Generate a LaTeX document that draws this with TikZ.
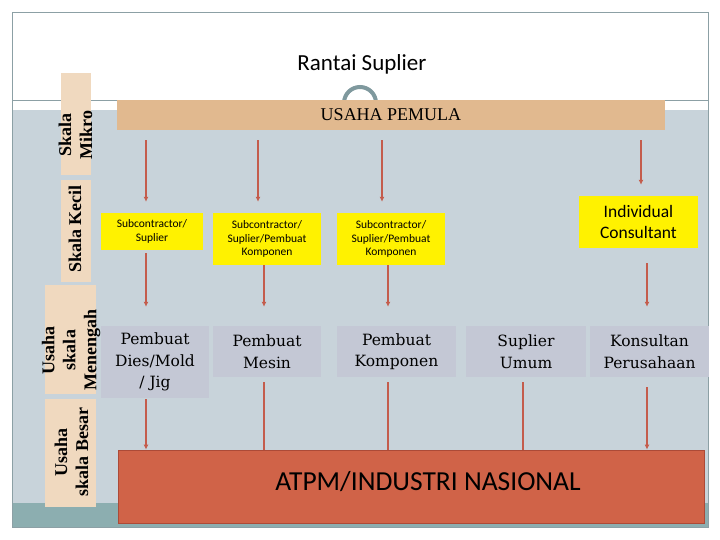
\documentclass[tikz,border=0pt]{standalone}
\usepackage{fontspec}
\newfontfamily\slidesans{Carlito}
\newfontfamily\slideserif{Liberation Serif}
\newfontfamily\boxserif{DejaVu Serif}
\usetikzlibrary{positioning}
\usetikzlibrary{calc}
\usetikzlibrary{arrows.meta}
\definecolor{slidegrey}{RGB}{200,211,218}
\definecolor{slideteal}{RGB}{140,174,176}
\definecolor{framegrey}{RGB}{140,160,165}
\definecolor{handlegrey}{RGB}{127,153,158}
\definecolor{tanbar}{RGB}{225,185,143}
\definecolor{peach}{RGB}{240,217,191}
\definecolor{boxgrey}{RGB}{196,200,213}
\definecolor{chainred}{RGB}{196,92,76}
\definecolor{atpmred}{RGB}{208,99,72}
\definecolor{atpmedge}{RGB}{172,74,55}

\begin{document}
\begin{tikzpicture}[
    x=1pt, y=-1pt,
    >={Latex[length=5pt,width=5pt]},
    % node styles
    bar/.style = {
      fill=tanbar,
      inner sep=0pt,
      font=\slideserif\fontsize{18}{21}\selectfont
    },
    side/.style = {fill=peach, inner sep=0pt},
    sidetxt/.style = {
      rotate=90,
      align=center,
      inner sep=0pt,
      font=\slideserif\bfseries\fontsize{18}{21}\selectfont
    },
    yel/.style = {
      fill=yellow,
      inner sep=0pt,
      align=center,
      font=\slidesans\fontsize{11.5}{13.5}\selectfont
    },
    gbox/.style = {
      fill=boxgrey,
      inner sep=0pt,
      align=center,
      font=\boxserif\fontsize{15.5}{21.5}\selectfont
    },
    % arrow styles
    arr/.style = {->, line width=1.6pt, draw=chainred},
    ln/.style = {line width=1.6pt, draw=chainred}
  ]
  \useasboundingbox (0,0) rectangle (720,540);

  % --- Slide
  \fill[white] (0,0) rectangle (720,540);
  \fill[slidegrey] (12,110) rectangle (708,503);
  \fill[slideteal] (12,503) rectangle (708,527);
  \draw[framegrey, line width=0.8pt] (12,12) rectangle (708,527);
  \draw[framegrey, line width=0.8pt] (12,100) -- (708,100);
  \draw[handlegrey, line width=4pt] (360,103) circle (16);

  \node[font=\slidesans\fontsize{23}{27}\selectfont] (title) at (362,64) {Rantai Suplier};

  % --- Nodes
  \node[bar, minimum width=548pt, minimum height=30pt] (pemula) at (391,115) {USAHA PEMULA};

  \node[side, minimum width=30pt, minimum height=102pt] (mikro) at (76,124) {};
  \node[side, minimum width=30pt, minimum height=102pt] (kecil) at (76,231) {};
  \node[side, minimum width=51pt, minimum height=109pt] (menengah) at (70.5,339.5) {};
  \node[side, minimum width=51pt, minimum height=108pt] (besar) at (70.5,453) {};
  \node[sidetxt] (mikrotxt) at (75.5,135) {Skala\\Mikro};
  \node[sidetxt] (keciltxt) at (75,229) {Skala Kecil};
  \node[sidetxt] (menengahtxt) at (71,350) {Usaha\\skala\\Menengah};
  \node[sidetxt] (besartxt) at (71.5,452) {Usaha\\skala Besar};

  \node[yel, minimum width=102pt, minimum height=37pt] (sub1) at (152,231.5) {Subcontractor/\\Suplier};
  \node[yel, minimum width=108pt, minimum height=52pt] (sub2) at (267,239) {Subcontractor/\\Suplier/Pembuat\\Komponen};
  \node[yel, minimum width=108pt, minimum height=52pt] (sub3) at (391,239) {Subcontractor/\\Suplier/Pembuat\\Komponen};
  \node[yel, minimum width=119pt, minimum height=52pt,
        font=\slidesans\fontsize{17.5}{21}\selectfont] (indiv) at (638.5,222) {Individual\\Consultant};

  \node[gbox, minimum width=108pt, minimum height=72pt] (dies) at (155,362) {Pembuat\\Dies/Mold\\/ Jig};
  \node[gbox, minimum width=108pt, minimum height=51pt] (mesin) at (267,351.5) {Pembuat\\Mesin};
  \node[gbox, minimum width=119pt, minimum height=51pt] (komp) at (396.5,351.5) {Pembuat\\Komponen};
  \node[gbox, minimum width=120pt, minimum height=51pt] (umum) at (526,351.5) {Suplier\\Umum};
  \node[gbox, minimum width=119pt, minimum height=51pt] (kons) at (649.5,351.5) {Konsultan\\Perusahaan};

  \node[fill=atpmred, draw=atpmedge, line width=0.8pt, inner sep=0pt,
        minimum width=586pt, minimum height=73pt] (atpm) at (411,486.5) {};
  \node[font=\slidesans\fontsize{27.5}{32}\selectfont] (atpmtxt) at (428,482) {ATPM/INDUSTRI NASIONAL};

  % --- Arrows
  \coordinate (c1) at (146,0);
  \coordinate (c2) at (258,0);
  \coordinate (c2b) at (264,0);
  \coordinate (c3) at (382,0);
  \coordinate (c3b) at (388,0);
  \coordinate (c4) at (523,0);
  \coordinate (c5) at (641,0);
  \coordinate (c5b) at (647,0);

  \draw[arr, shorten <=10pt, shorten >=11pt] (pemula.south -| c1) -- (sub1.north -| c1);
  \draw[arr, shorten <=10pt, shorten >=11pt] (pemula.south -| c2) -- (sub2.north -| c2);
  \draw[arr, shorten <=10pt, shorten >=11pt] (pemula.south -| c3) -- (sub3.north -| c3);
  \draw[arr, shorten <=10pt, shorten >=11pt] (pemula.south -| c5) -- (indiv.north -| c5);

  \draw[arr, shorten <=3pt, shorten >=19pt] (sub1.south -| c1) -- (dies.north -| c1);
  \draw[arr, shorten >=19pt] (sub2.south -| c2b) -- (mesin.north -| c2b);
  \draw[arr, shorten >=19pt] (sub3.south -| c3b) -- (komp.north -| c3b);
  \draw[arr, shorten <=15pt, shorten >=19pt] (indiv.south -| c5b) -- (kons.north -| c5b);

  \draw[arr, shorten <=1pt] (dies.south -| c1) -- (atpm.north -| c1);
  \draw[ln, shorten <=5pt] (mesin.south -| c2b) -- (atpm.north -| c2b);
  \draw[ln, shorten <=5pt] (komp.south -| c3b) -- (atpm.north -| c3b);
  \draw[ln, shorten <=5pt] (umum.south -| c4) -- (atpm.north -| c4);
  \draw[arr, shorten <=10pt] (kons.south -| c5b) -- (atpm.north -| c5b);

\end{tikzpicture}
\end{document}
